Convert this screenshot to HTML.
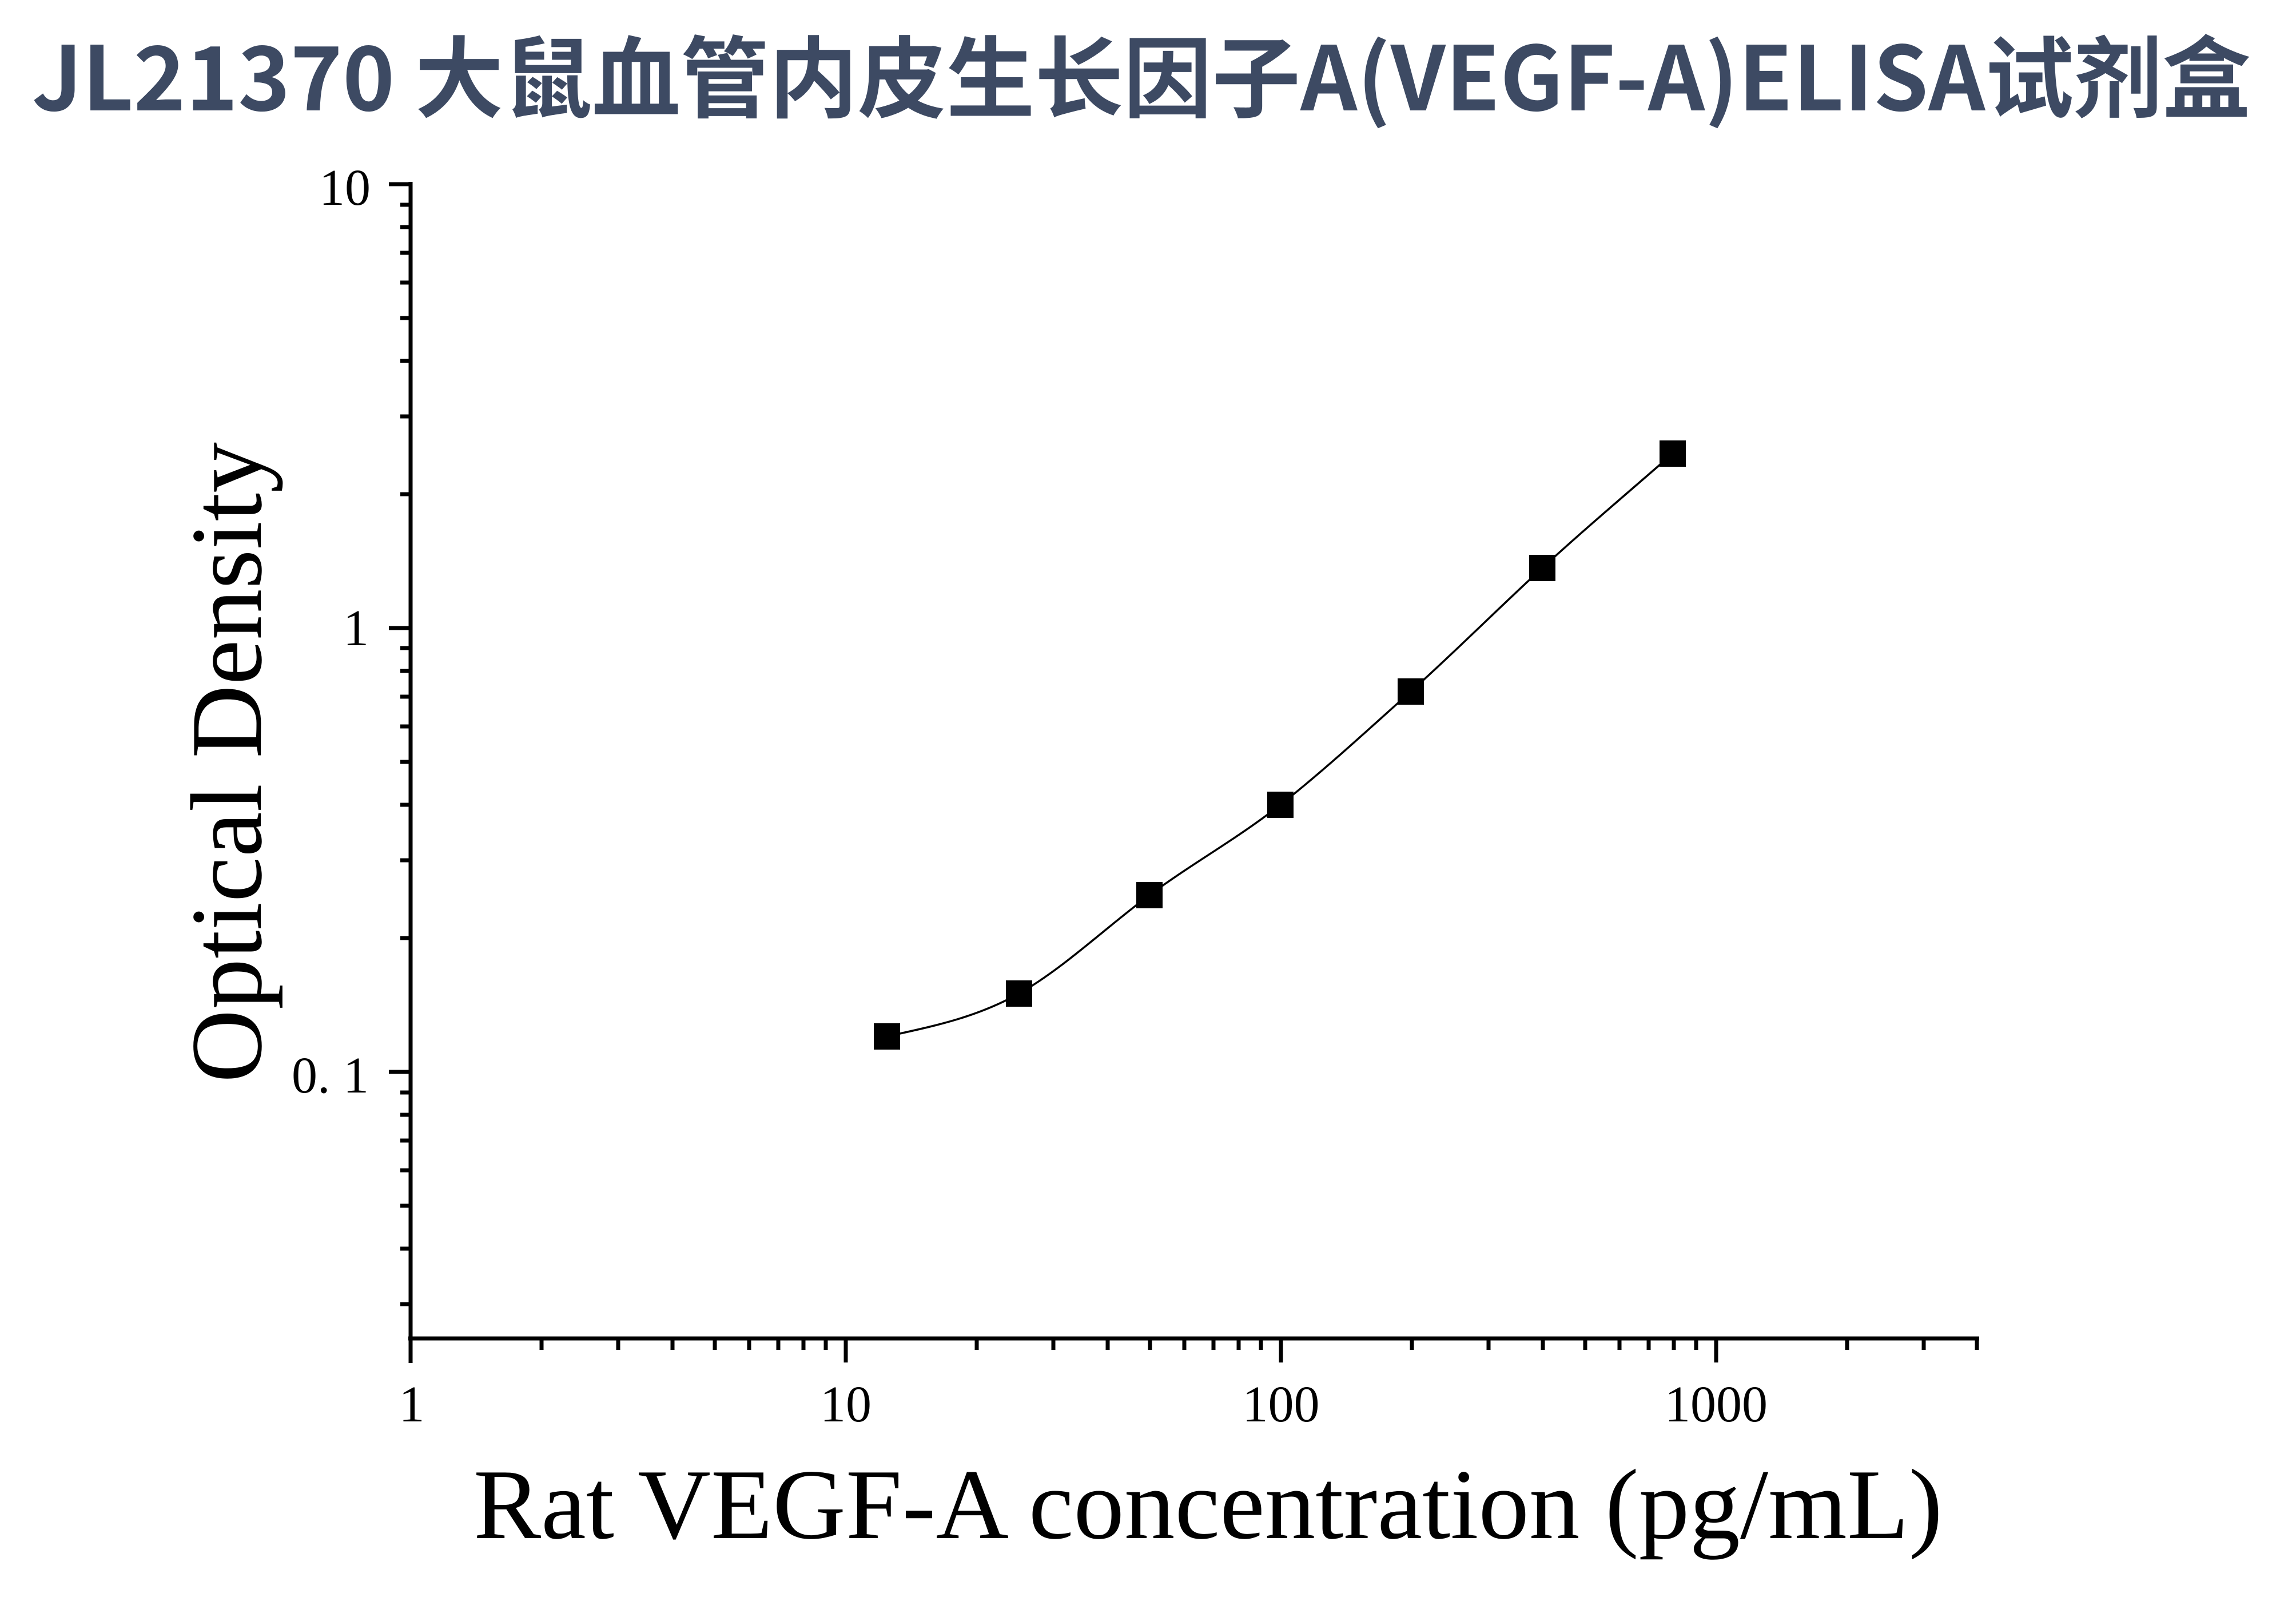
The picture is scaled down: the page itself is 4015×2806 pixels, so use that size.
<!DOCTYPE html>
<html><head><meta charset="utf-8"><style>html,body{margin:0;padding:0;background:#fff}svg{display:block}</style></head>
<body>
<svg width="4015" height="2806" viewBox="0 0 4015 2806" xmlns="http://www.w3.org/2000/svg">
<rect width="4015" height="2806" fill="#fff"/>
<text x="56" y="193" font-family="'Noto Sans CJK SC','Liberation Sans',sans-serif" font-weight="bold" font-size="155" fill="#3d4a63" textLength="3880" lengthAdjust="spacingAndGlyphs">JL21370 大鼠血管内皮生长因子A(VEGF-A)ELISA试剂盒</text>
<g stroke="#000" stroke-width="7" fill="none">
<line x1="718" y1="318" x2="718" y2="2383"/>
<line x1="714" y1="2340" x2="3461" y2="2340"/>
<line x1="680" y1="322" x2="718" y2="322"/>
<line x1="680" y1="1098" x2="718" y2="1098"/>
<line x1="680" y1="1874" x2="718" y2="1874"/>
<path d="M700 2280H718M700 2183H718M700 2108H718M700 2046H718M700 1994H718M700 1949H718M700 1910H718
M700 1640H718M700 1504H718M700 1407H718M700 1332H718M700 1270H718M700 1218H718M700 1173H718M700 1133H718
M700 864H718M700 728H718M700 631H718M700 556H718M700 494H718M700 442H718M700 397H718M700 358H718"/>
<path d="M1479 2340V2382M2240 2340V2382M3001 2340V2382"/>
<path d="M947 2340V2360M1081 2340V2360M1176 2340V2360M1250 2340V2360M1310 2340V2360M1361 2340V2360M1405 2340V2360M1444 2340V2360
M1708 2340V2360M1842 2340V2360M1937 2340V2360M2011 2340V2360M2071 2340V2360M2122 2340V2360M2166 2340V2360M2205 2340V2360
M2469 2340V2360M2603 2340V2360M2698 2340V2360M2772 2340V2360M2832 2340V2360M2883 2340V2360M2927 2340V2360M2966 2340V2360
M3230 2340V2360M3364 2340V2360M3457 2340V2360"/>
</g>
<path d="M1551 1812C1627.3 1795 1705.7 1780 1782 1737C1858.3 1694 1933.7 1621.7 2010 1565C2086.3 1508.3 2162.7 1467 2239 1407C2315.3 1347 2390.7 1277.3 2467 1209C2543.3 1140.7 2620.7 1063 2697 993C2773.3 923 2848.7 859.7 2925 793" stroke="#000" stroke-width="3.5" fill="none"/>
<g fill="#000">
<rect x="1528" y="1789" width="46" height="46"/>
<rect x="1759" y="1714" width="46" height="46"/>
<rect x="1987" y="1542" width="46" height="46"/>
<rect x="2216" y="1384" width="46" height="46"/>
<rect x="2444" y="1186" width="46" height="46"/>
<rect x="2674" y="970" width="46" height="46"/>
<rect x="2902" y="770" width="46" height="46"/>
</g>
<g font-family="'Liberation Serif',serif" font-size="90" fill="#000">
<text x="648" y="358" text-anchor="end">10</text>
<text x="645" y="1128" text-anchor="end">1</text>
<text x="645" y="1910" text-anchor="end">0. 1</text>
<text x="720" y="2485" text-anchor="middle">1</text>
<text x="1479" y="2485" text-anchor="middle">10</text>
<text x="2240" y="2485" text-anchor="middle">100</text>
<text x="3001" y="2485" text-anchor="middle">1000</text>
</g>
<text transform="translate(456,1893) rotate(-90)" x="0" y="0" font-family="'Liberation Serif',serif" font-size="178" fill="#000" textLength="1120" lengthAdjust="spacingAndGlyphs">Optical Density</text>
<text x="828" y="2689" font-family="'Liberation Serif',serif" font-size="175" fill="#000" textLength="2569" lengthAdjust="spacingAndGlyphs">Rat VEGF-A concentration (pg/mL)</text>
</svg>
</body></html>
